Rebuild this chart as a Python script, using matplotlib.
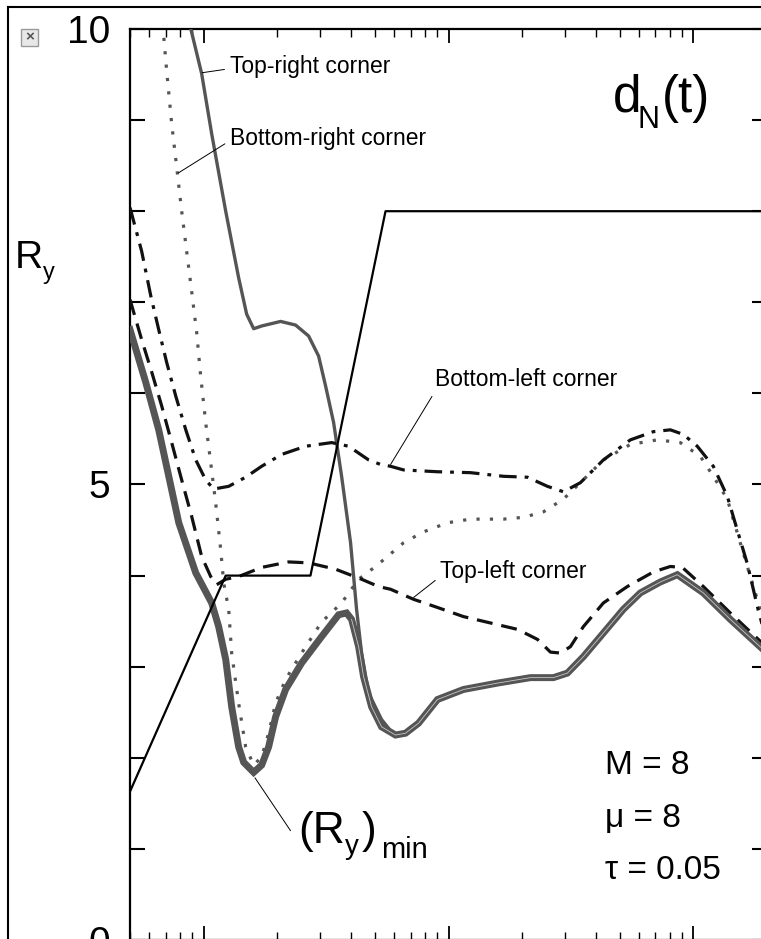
import numpy as np
import matplotlib.pyplot as plt
from matplotlib.ticker import MultipleLocator, LogLocator, FuncFormatter, NullFormatter
from matplotlib.lines import Line2D
from matplotlib.patches import Rectangle

plt.rcParams['font.family'] = ['Liberation Sans', 'DejaVu Sans']

# ---- data (t on log axis, R_y) ----
# d_N(t)
dn_t = [0.5, 1.23, 2.73, 5.53, 200]
dn_R = [1.63, 4.0, 4.0, 8.0, 8.0]

# Top-right corner (solid grey)
tr_t = [0.877, 0.981, 1.078, 1.230, 1.389, 1.498, 1.600, 1.725, 2.062, 2.374,
        2.683, 2.947, 3.148, 3.394, 3.659, 3.981, 4.212, 4.415, 4.716, 5.328, 6.076]
tr_R = [10.05, 9.51, 8.85, 8.00, 7.27, 6.87, 6.71, 6.74, 6.79, 6.75,
        6.63, 6.41, 6.08, 5.68, 5.09, 4.36, 3.63, 3.15, 2.71, 2.42, 2.23]

# Bottom-right corner (dotted grey)
br_t = [0.680, 0.706, 0.740, 0.776, 0.813, 0.852, 0.893, 0.936, 0.972, 1.019,
        1.068, 1.119, 1.173, 1.207, 1.265, 1.301, 1.389, 1.484, 1.600, 1.725,
        1.842, 1.967, 2.161, 2.512, 3.031, 3.659, 4.293, 5.035, 5.636, 6.55,
        7.906, 9.906, 12.29, 16.77, 20.24, 24.43, 29.48, 34.58, 42.93, 55.34,
        71.3, 88.5, 106.8, 120.7, 137.7, 151.2, 166.2, 182.5, 200]
br_R = [10.05, 9.54, 8.96, 8.48, 8.00, 7.56, 7.12, 6.67, 6.19, 5.68,
        5.24, 4.80, 4.29, 3.92, 3.63, 3.15, 2.60, 2.12, 1.92, 2.01,
        2.27, 2.60, 2.86, 3.15, 3.49, 3.70, 3.96, 4.10, 4.21, 4.36,
        4.48, 4.58, 4.62, 4.62, 4.64, 4.70, 4.84, 5.02, 5.27, 5.44,
        5.49, 5.46, 5.31, 5.09, 4.84, 4.47, 4.10, 3.74, 3.35]

# Bottom-left corner (dash-dot black)
bl_t = [0.5, 0.558, 0.608, 0.655, 0.706, 0.769, 0.845, 0.928, 1.019, 1.098,
        1.265, 1.484, 1.725, 2.081, 2.608, 3.331, 3.907, 4.716, 5.278, 5.799,
        6.55, 9.018, 12.29, 16.77, 21.01, 25.36, 29.48, 34.58, 42.93, 55.34,
        68.66, 80.55, 91.04, 103.8, 120.7, 137.7, 151.2, 166.2, 184.2, 200]
bl_R = [8.04, 7.56, 7.07, 6.70, 6.34, 5.97, 5.60, 5.27, 5.05, 4.95,
        4.98, 5.08, 5.20, 5.33, 5.42, 5.46, 5.42, 5.27, 5.22, 5.20,
        5.16, 5.14, 5.13, 5.09, 5.08, 4.98, 4.92, 5.02, 5.27, 5.49,
        5.58, 5.60, 5.55, 5.42, 5.20, 4.87, 4.50, 4.13, 3.62, 3.27]

# Top-left corner (dashed black)
tl_t = [0.5, 0.558, 0.614, 0.674, 0.740, 0.813, 0.893, 0.981, 1.068, 1.130,
        1.230, 1.389, 1.725, 2.223, 2.683, 3.458, 4.415, 5.179, 5.799, 7.197,
        9.018, 11.51, 14.84, 19.12, 23.09, 26.09, 28.65, 31.48, 35.56, 42.93,
        53.78, 68.66, 80.55, 90.19, 109.9, 141.6, 200]
tl_R = [7.03, 6.59, 6.23, 5.86, 5.46, 5.05, 4.65, 4.21, 3.99, 3.90,
        3.96, 3.99, 4.09, 4.15, 4.14, 4.07, 3.96, 3.88, 3.85, 3.74,
        3.65, 3.55, 3.48, 3.41, 3.30, 3.16, 3.15, 3.22, 3.44, 3.70,
        3.88, 4.04, 4.10, 4.09, 3.88, 3.59, 3.21]

# (R_y)_min (thick grey)
mn_t = [0.5, 0.580, 0.655, 0.720, 0.791, 0.928, 1.078, 1.151, 1.230, 1.301,
        1.389, 1.457, 1.600, 1.725, 1.842, 1.967, 2.161, 2.512, 3.031, 3.556,
        3.834, 4.018, 4.293, 4.499, 4.851, 5.328, 6.076, 6.675, 7.545, 9.018,
        11.51, 15.85, 21.61, 26.83, 30.6, 35.56, 42.93, 51.8, 60.77, 73.33,
        86.05, 109.9, 141.6, 200]
mn_R = [6.70, 6.12, 5.60, 5.09, 4.58, 4.03, 3.70, 3.44, 3.08, 2.56,
        2.12, 1.95, 1.84, 1.92, 2.12, 2.45, 2.75, 3.04, 3.33, 3.57,
        3.59, 3.52, 3.22, 2.89, 2.56, 2.34, 2.25, 2.27, 2.38, 2.64,
        2.75, 2.82, 2.88, 2.88, 2.93, 3.11, 3.37, 3.63, 3.81, 3.93,
        4.01, 3.81, 3.52, 3.15]

W, H = 761, 939
fig = plt.figure(figsize=(W / 100, H / 100), dpi=100)
ax = fig.add_axes([130 / W, (H - 940) / H, 637 / W, 911 / H])


def ftxt(x, y, s, size):
    # text placed by pixel position (left, baseline) from top-left of the image
    fig.text(x / W, 1 - y / H, s, fontsize=size, ha='left', va='baseline')


grey = '#555555'
ax.plot(tr_t, tr_R, color=grey, lw=2.4, solid_capstyle='butt', zorder=3)
ax.plot(br_t, br_R, color=grey, lw=2.3, linestyle=(0, (1, 3.2)), dash_capstyle='butt', zorder=3)
ax.plot(bl_t, bl_R, color='#111111', lw=2.3, linestyle=(0, (5.5, 2.5, 1.2, 2.5)),
        dash_capstyle='butt', zorder=4)
ax.plot(tl_t, tl_R, color='#111111', lw=2.3, linestyle=(0, (5, 2.8)),
        dash_capstyle='butt', zorder=4)
ax.plot(mn_t, mn_R, color=grey, lw=5.0, solid_joinstyle='miter', zorder=5)
mt = np.array(mn_t)
mr = np.array(mn_R)
sel = mt >= 3.9
ax.plot(mt[sel], mr[sel], color='#c8c8c8', lw=0.6, zorder=6)
ax.plot(dn_t, dn_R, color='black', lw=1.6, zorder=7)

ax.set_xscale('log')
ax.set_xlim(0.5, 200)
ax.set_ylim(0, 10)

ax.xaxis.set_major_locator(LogLocator(base=10))
ax.xaxis.set_minor_locator(LogLocator(base=10, subs=np.arange(2, 10)))
ax.xaxis.set_minor_formatter(NullFormatter())
ax.tick_params(axis='x', which='major', direction='in', length=10, width=1.3,
               top=True, bottom=True, labelbottom=False, labeltop=False)
ax.tick_params(axis='x', which='minor', direction='in', length=6, width=1.0,
               top=True, bottom=True)

ax.yaxis.set_major_locator(MultipleLocator(1))
ax.yaxis.set_major_formatter(FuncFormatter(lambda v, p: f'{v:g}' if v % 5 == 0 else ''))
ax.tick_params(axis='y', which='major', direction='in', length=11, width=1.5,
               left=True, right=True, labelsize=28, pad=14)
for s in ax.spines.values():
    s.set_linewidth(1.6)

# labels on curves
lab = dict(fontsize=16.5, va='center', ha='left')
arr = dict(arrowstyle='-', color='black', lw=0.7, shrinkA=2, shrinkB=0)
ax.annotate('Top-right corner', xy=(0.985, 9.52), xytext=(0.157, 0.959),
            textcoords='axes fraction', arrowprops=dict(arr, relpos=(0, 0.4)), **lab)
ax.annotate('Bottom-right corner', xy=(0.788, 8.42), xytext=(0.157, 0.880),
            textcoords='axes fraction', arrowprops=dict(arr, relpos=(0, 0.4)), **lab)
ax.annotate('Bottom-left corner', xy=(5.8, 5.22), xytext=(0.479, 0.615),
            textcoords='axes fraction', arrowprops=dict(arr, relpos=(0, 0.0)), **lab)
ax.annotate('Top-left corner', xy=(7.2, 3.76), xytext=(0.487, 0.404),
            textcoords='axes fraction', arrowprops=dict(arr, relpos=(0, 0.3)), **lab)
# leader to the minimum of (R_y)_min
ax.annotate('', xy=(1.62, 1.78), xytext=(0.252, 0.120), textcoords='axes fraction',
            arrowprops=dict(arr, shrinkA=0))

# (R_y)_min label, built from pieces
ftxt(298, 843, '(R', 32)
ftxt(345, 854, 'y', 20)
ftxt(362, 843, ')', 32)
ftxt(381, 858, 'min', 21)

# d_N(t)
ftxt(613, 112, 'd', 37)
ftxt(638, 128, 'N', 22)
ftxt(662, 112, '(t)', 37)

# R_y axis title
ftxt(15, 268, 'R', 28)
ftxt(43, 279, 'y', 17)

ax.text(0.746, 0.191, 'M = 8', transform=ax.transAxes, fontsize=24, va='center')
ax.text(0.746, 0.133, '\u03bc = 8', transform=ax.transAxes, fontsize=24, va='center')
ax.text(0.746, 0.076, '\u03c4 = 0.05', transform=ax.transAxes, fontsize=24, va='center')

# outer frame and the small broken-image icon
fig.add_artist(Line2D([8 / W, 8 / W], [0, 1 - 7 / H], color='black', lw=1.5))
fig.add_artist(Line2D([8 / W, 1], [1 - 7 / H, 1 - 7 / H], color='black', lw=1.5))
fig.add_artist(Rectangle((21 / W, 1 - 46 / H), 17 / W, 17 / H, facecolor='#e8e8e8',
                         edgecolor='#9a9a9a', lw=1.0))
fig.text(29.5 / W, 1 - 37.5 / H, '\u00d7', fontsize=11, fontweight='bold',
         color='#555555', ha='center', va='center')

fig.savefig('out.png', dpi=100)
